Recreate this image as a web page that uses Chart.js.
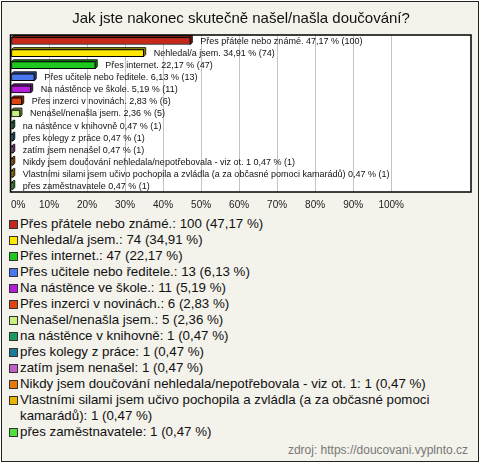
<!DOCTYPE html>
<html>
<head>
<meta charset="utf-8">
<script src="https://cdn.jsdelivr.net/npm/chart.js@4/dist/chart.umd.min.js"></script>
<style>
body { margin: 0; background: #fff; font-family: "Liberation Sans", Arial, sans-serif; }
#frame { position: absolute; left: 1px; top: 1px; width: 478px; height: 461px; box-sizing: border-box;
  border: 1px solid #222; background: #f3f2eb; }
#myChart { position: absolute; left: 0; top: 0; }
#legend { position: absolute; left: 9px; top: 216px; font-size: 13.3px; line-height: 16px; color: #111; }
.item { display: flex; align-items: flex-start; }
.box { width: 7px; height: 7px; border: 1px solid #333; margin: 4px 2px 0 0; flex: none; }
.txt { width: 445px; }
#source { position: absolute; right: 12px; top: 443px; font-size: 12px; line-height: 14px; color: #777; }
</style>
</head>
<body>
<div id="frame"></div>
<canvas id="myChart" width="480" height="215"></canvas>
<div id="legend"></div>
<div id="source">zdroj: https://doucovani.vyplnto.cz</div>
<script>
let title = 'Jak jste nakonec skutečně našel/našla doučování?';
let answers = [
    'Přes přátele nebo známé.',
    'Nehledal/a jsem.',
    'Přes internet.',
    'Přes učitele nebo ředitele.',
    'Na nástěnce ve škole.',
    'Přes inzerci v novinách.',
    'Nenašel/nenašla jsem.',
    'na nástěnce v knihovně',
    'přes kolegy z práce',
    'zatím jsem nenašel',
    'Nikdy jsem doučování nehledala/nepotřebovala - viz ot. 1',
    'Vlastními silami jsem učivo pochopila a zvládla (a za občasné pomoci kamarádů)',
    'přes zaměstnavatele'
];
let counts = [100, 74, 47, 13, 11, 6, 5, 1, 1, 1, 1, 1, 1];
let percents = [47.17, 34.91, 22.17, 6.13, 5.19, 2.83, 2.36, 0.47, 0.47, 0.47, 0.47, 0.47, 0.47];
let colors = ['#c8281a', '#ffe800', '#1ec81e', '#4a78f0', '#b41ed8', '#e04410', '#c8f080',
    '#1a9a60', '#1a7a9a', '#c060c8', '#e8780a', '#e8b400', '#50e040'];
let tickValues = [0, 10, 20, 30, 40, 50, 60, 70, 80, 90, 100];

const fmt = v => v.toFixed(2).replace('.', ',');

// darker tone for the 3d faces of the bars
function shade(hex) {
    let n = parseInt(hex.slice(1), 16);
    let r = Math.round(((n >> 16) & 255) * 0.6);
    let g = Math.round(((n >> 8) & 255) * 0.6);
    let b = Math.round((n & 255) * 0.6);
    return 'rgb(' + r + ',' + g + ',' + b + ')';
}

// white plot area with black frame
const plotBox = {
    id: 'plotBox',
    beforeDraw(chart) {
        let a = chart.chartArea;
        chart.ctx.save();
        chart.ctx.fillStyle = '#fff';
        chart.ctx.fillRect(a.left, a.top, a.right - a.left, a.bottom - a.top);
        chart.ctx.restore();
    },
    afterDraw(chart) {
        let a = chart.chartArea;
        chart.ctx.save();
        chart.ctx.strokeStyle = '#000';
        chart.ctx.lineWidth = 1.5;
        chart.ctx.strokeRect(a.left - 0.5, a.top, a.right - a.left + 0.5, a.bottom - a.top);
        chart.ctx.restore();
    }
};

// depth faces behind each bar + value labels after it
const depth = {
    id: 'depth',
    beforeDatasetsDraw(chart) {
        let ctx = chart.ctx;
        let d = 2;
        chart.getDatasetMeta(0).data.forEach((el, i) => {
            let p = el.getProps(['x', 'y', 'base', 'height'], true);
            let t = p.y - p.height / 2, b = p.y + p.height / 2;
            ctx.save();
            ctx.fillStyle = shade(colors[i]);
            ctx.strokeStyle = '#000';
            ctx.lineWidth = 0.8;
            ctx.beginPath();
            ctx.moveTo(p.base, t);
            ctx.lineTo(p.base + d, t - d);
            ctx.lineTo(p.x + d, t - d);
            ctx.lineTo(p.x + d, b - d);
            ctx.lineTo(p.x, b);
            ctx.lineTo(p.x, t);
            ctx.closePath();
            ctx.fill();
            ctx.stroke();
            ctx.restore();
        });
    },
    afterDatasetsDraw(chart) {
        let ctx = chart.ctx;
        ctx.save();
        ctx.font = '9px "Liberation Sans", Arial, sans-serif';
        ctx.fillStyle = '#111';
        ctx.textBaseline = 'middle';
        chart.getDatasetMeta(0).data.forEach((el, i) => {
            let text = answers[i] + ' ' + fmt(percents[i]) + ' % (' + counts[i] + ')';
            ctx.fillText(text, el.x + 10, el.y + 0.5);
        });
        ctx.restore();
    }
};

let ctx = document.getElementById('myChart').getContext('2d');
let myChart = new Chart(ctx, {
    type: 'bar',
    data: {
        labels: answers,
        datasets: [{
            data: percents,
            backgroundColor: colors,
            borderColor: '#000',
            borderWidth: 1,
            borderSkipped: false,
            barThickness: 7
        }]
    },
    options: {
        indexAxis: 'y',
        responsive: false,
        animation: false,
        layout: { padding: { left: 11, right: 9, top: 0, bottom: 0 } },
        plugins: {
            legend: { display: false },
            tooltip: { enabled: false },
            title: {
                display: true,
                text: title,
                color: '#111',
                font: { family: '"Liberation Sans", Arial, sans-serif', size: 15, weight: 'normal' },
                padding: { top: 10, bottom: 7 }
            }
        },
        scales: {
            x: {
                min: 0,
                max: 121,
                afterFit: scale => { scale.height = 23; },
                border: { display: false },
                grid: {
                    drawTicks: false,
                    color: c => tickValues.includes(c.tick.value) ? '#c4c4c4' : 'rgba(0,0,0,0)'
                },
                ticks: {
                    stepSize: 10,
                    autoSkip: false,
                    maxRotation: 0,
                    align: 'inner',
                    padding: 7,
                    color: '#222',
                    font: { family: '"Liberation Sans", Arial, sans-serif', size: 10 },
                    callback: v => tickValues.includes(v) ? v + '%' : ''
                }
            },
            y: { display: false }
        }
    },
    plugins: [plotBox, depth]
});

// legend below the chart
let legend = document.getElementById('legend');
answers.forEach((name, i) => {
    legend.innerHTML += '<div class="item"><span class="box" style="background:' + colors[i] + '"></span>' +
        '<span class="txt">' + name + ': ' + counts[i] + ' (' + fmt(percents[i]) + ' %)</span></div>';
});
</script>
</body>
</html>
